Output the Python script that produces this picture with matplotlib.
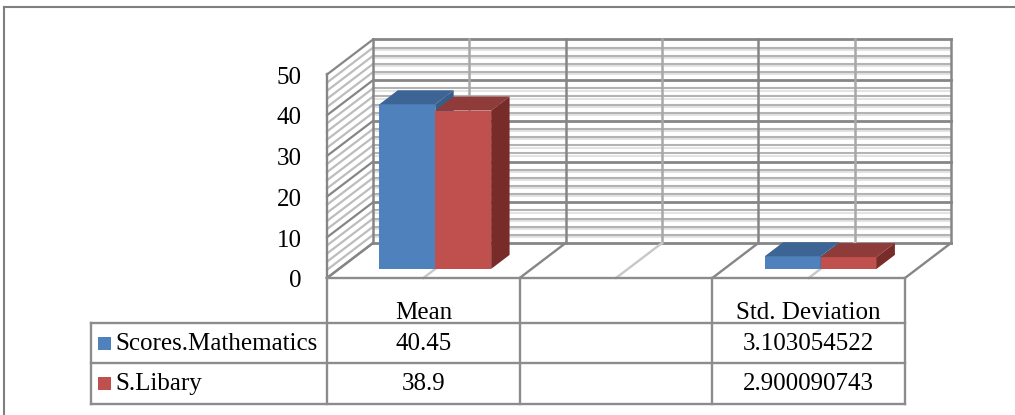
import numpy as np
import matplotlib.pyplot as plt
from matplotlib.patches import Polygon, Rectangle

plt.rcParams['font.family'] = ['Liberation Serif', 'DejaVu Serif']

categories = ['Mean', '', 'Std. Deviation']
series_names = ['Scores.Mathematics', 'S.Libary']
math_scores = [40.45, np.nan, 3.103054522]
library_scores = [38.9, np.nan, 2.900090743]
math_text = ['40.45', '', '3.103054522']
library_text = ['38.9', '', '2.900090743']
y_ticks = [0, 10, 20, 30, 40, 50]

front_cols = ['#4f81bd', '#c0504d']
top_cols = ['#3c6494', '#8f3b39']
side_cols = ['#385d8a', '#772c2a']

W, H = 1015, 415
fig = plt.figure(figsize=(W / 100, H / 100), dpi=100)
ax = fig.add_axes([0, 0, 1, 1])
ax.axis('off')

# x in categories, y in score units; front-left floor corner = (0, 0)
cat_px, unit_px = 192.67, 4.07
x0_px, y0_px = 327, 278
ax.set_xlim(-x0_px / cat_px, (W - x0_px) / cat_px)
ax.set_ylim(-(H - y0_px) / unit_px, y0_px / unit_px)


def px(x, y):
    # pixel (from top left) -> data, for layout only
    return (x - x0_px) / cat_px, (y0_px - y) / unit_px


DX, DY = 46 / cat_px, 35 / unit_px     # depth of the 3d box
n = len(categories)
ymax = y_ticks[-1]
dark, light = '#868686', '#b3b3b3'
fs = 18

# walls: horizontal grid (major every 10, minor every 2)
for v in np.arange(0, ymax + 1, 2):
    major = v % 10 == 0
    c = dark if major else light
    lw = 2.0 if major else 1.5
    if not major:
        ax.plot([DX, n + DX], [v + DY - 0.55, v + DY - 0.55], color='#e0e0e0', lw=1.3, zorder=1)
    ax.plot([DX, n + DX], [v + DY, v + DY], color=c, lw=lw, zorder=1)
    ax.plot([0, DX], [v, v + DY], color=c if major else '#bdbdbd', lw=1.6, zorder=1)

# back wall verticals
for k in range(2 * n + 1):
    x = DX + k * 0.5
    ax.plot([x, x], [DY, ymax + DY], color=dark if k % 2 == 0 else '#a8a8a8', lw=1.8, zorder=1)
ax.plot([0, 0], [0, ymax], color=dark, lw=1.7, zorder=1)

# floor
for k in range(n + 1):
    ax.plot([k, k + DX], [0, DY], color=dark, lw=1.7, zorder=1)
for k in range(n):
    ax.plot([k + 0.5, k + 0.5 + DX], [0, DY], color='#c8c8c8', lw=1.7, zorder=1)

# bars
f0, f1 = 0.26, 0.66
bw = 0.29
for i in range(n):
    for j, vals in enumerate([math_scores, library_scores]):
        val = vals[i]
        if np.isnan(val):
            continue
        xl = i + 0.5 - bw + j * bw + f0 * DX
        base = f0 * DY
        yt = base + val
        ddx, ddy = (f1 - f0) * DX, (f1 - f0) * DY
        z = 3 + i * 2 + j * 0.5
        ax.add_patch(Polygon([(xl, base), (xl + bw, base), (xl + bw, yt), (xl, yt)],
                             closed=True, fc=front_cols[j], ec='none', zorder=z))
        ax.add_patch(Polygon([(xl, yt), (xl + bw, yt), (xl + bw + ddx, yt + ddy), (xl + ddx, yt + ddy)],
                             closed=True, fc=top_cols[j], ec='none', zorder=z))
        ax.add_patch(Polygon([(xl + bw, base), (xl + bw + ddx, base + ddy), (xl + bw + ddx, yt + ddy), (xl + bw, yt)],
                             closed=True, fc=side_cols[j], ec='none', zorder=z))

# y tick labels
lx, _ = px(302, 0)
for t in y_ticks:
    ax.text(lx, t - 0.8, str(t), ha='right', va='center', fontsize=fs)

# data table
tc = '#8c8c8c'
row_y = [px(0, 278)[1], px(0, 323)[1], px(0, 363)[1], px(0, 404)[1]]
leg_x = px(91, 0)[0]
ax.plot([0, n], [row_y[0], row_y[0]], color=tc, lw=1.7, zorder=2)
for r in (1, 2, 3):
    ax.plot([leg_x, n], [row_y[r], row_y[r]], color=tc, lw=1.7, zorder=2)
for k in range(n + 1):
    ax.plot([k, k], [row_y[0], row_y[3]], color=tc, lw=1.7, zorder=2)
ax.plot([leg_x, leg_x], [row_y[1], row_y[3]], color=tc, lw=1.7, zorder=2)

for i, c in enumerate(categories):
    ax.text(i + 0.5, px(0, 313)[1], c, ha='center', va='center', fontsize=fs)
    ax.text(i + 0.5, px(0, 344)[1], math_text[i], ha='center', va='center', fontsize=fs)
    ax.text(i + 0.5, px(0, 384)[1], library_text[i], ha='center', va='center', fontsize=fs)

for j, (name, yc) in enumerate(zip(series_names, [344, 384])):
    kx0, ky0 = px(98, yc - 7)
    kx1, ky1 = px(111, yc + 6)
    ax.add_patch(Rectangle((kx0, ky1), kx1 - kx0, ky0 - ky1, fc=front_cols[j], ec='none'))
    ax.text(px(115, 0)[0], px(0, yc)[1], name, ha='left', va='center', fontsize=fs)

# outer frame
bx, by = px(3.5, 7.5)
ax.plot([bx, bx], [by, ax.get_ylim()[0]], color='#7f7f7f', lw=1.5, clip_on=False)
ax.plot([bx, ax.get_xlim()[1]], [by, by], color='#7f7f7f', lw=1.5, clip_on=False)

fig.savefig('out.png', dpi=100)
